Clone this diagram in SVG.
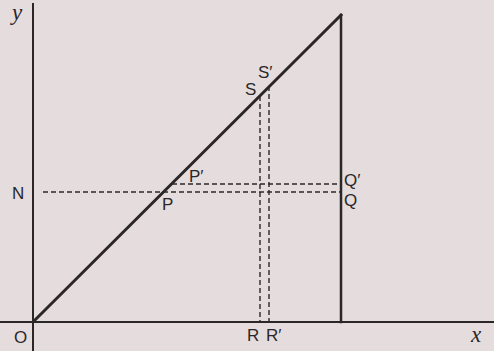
<svg xmlns="http://www.w3.org/2000/svg" width="494" height="351" viewBox="0 0 494 351">
<style>
.lbl{font-family:"Liberation Sans",Arial,sans-serif;font-size:17px;fill:#2b2728}
.var{font-family:"Liberation Serif","Times New Roman",serif;font-style:italic;font-size:23px;fill:#2b2728}
.solid{stroke:#2b2728;fill:none;stroke-linecap:square}
.dash{stroke:#2b2728;fill:none;stroke-width:1.4;stroke-dasharray:5 3}
</style>
<rect width="494" height="351" fill="#e5dddd"/>
<g id="connectors">
<line class="solid" x1="33" y1="4" x2="33" y2="351" stroke-width="2"/>
<line class="solid" x1="0" y1="322" x2="494" y2="322" stroke-width="2"/>
<line class="solid" x1="33" y1="322" x2="341" y2="15" stroke-width="3"/>
<line class="solid" x1="341" y1="15" x2="341" y2="322" stroke-width="2.5"/>
<line class="dash" x1="43" y1="192" x2="341" y2="192"/>
<line class="dash" x1="172" y1="184" x2="341" y2="184"/>
<line class="dash" x1="260" y1="96" x2="260" y2="322"/>
<line class="dash" x1="269" y1="86" x2="269" y2="322"/>
</g>
<g id="axis-y"><text class="var" x="12" y="20">y</text></g>
<g id="axis-x"><text class="var" x="471" y="342">x</text></g>
<g id="O"><text class="lbl" x="14" y="343">O</text></g>
<g id="N"><text class="lbl" x="12" y="199">N</text></g>
<g id="P"><text class="lbl" x="162" y="210">P</text></g>
<g id="P-prime"><text class="lbl" x="189" y="182">P′</text></g>
<g id="Q-prime"><text class="lbl" x="344" y="186">Q′</text></g>
<g id="Q"><text class="lbl" x="344" y="206">Q</text></g>
<g id="S"><text class="lbl" x="245" y="95">S</text></g>
<g id="S-prime"><text class="lbl" x="258" y="78">S′</text></g>
<g id="R"><text class="lbl" x="247" y="341">R</text></g>
<g id="R-prime"><text class="lbl" x="266" y="341">R′</text></g>
</svg>
